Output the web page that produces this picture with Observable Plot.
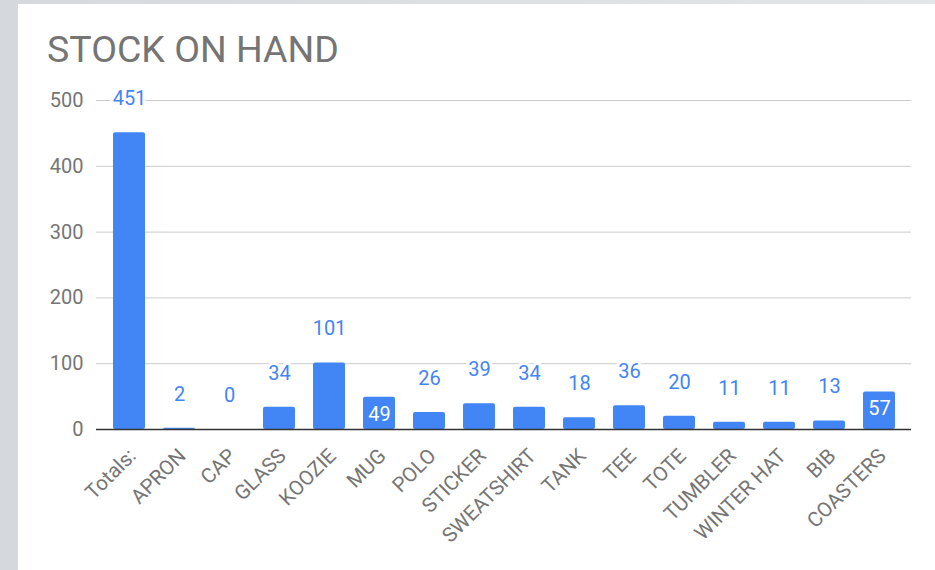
<!DOCTYPE html>
<html><head><meta charset="utf-8">
<script src="https://cdn.jsdelivr.net/npm/d3@7"></script>
<script src="https://cdn.jsdelivr.net/npm/@observablehq/plot@0.6"></script>
<style>
html,body{margin:0;padding:0;width:935px;height:570px;overflow:hidden;background:linear-gradient(90deg,#d5d9dd,#e3e6e9);font-family:Roboto,sans-serif;}
#card{position:absolute;left:18px;top:4px;width:917px;height:566px;background:#fff;}
#title{position:absolute;left:47px;top:31px;font-size:37.5px;line-height:37.5px;color:#757575;font-family:Roboto,sans-serif;white-space:nowrap;}
#chart{position:absolute;left:0;top:70px;}
</style>
</head><body>
<div id="card"></div>
<div id="title">STOCK ON HAND</div>
<div id="chart"></div>
<script>
const categories = ["Totals:","APRON","CAP","GLASS","KOOZIE","MUG","POLO","STICKER","SWEATSHIRT","TANK","TEE","TOTE","TUMBLER","WINTER HAT","BIB","COASTERS"];
const stock = [451,2,0,34,101,49,26,39,34,18,36,20,11,11,13,57];
const yTicks = [0,100,200,300,400,500];
const insideLabels = ["MUG","COASTERS"];

const data = categories.map((c,i)=>({category:c, value:stock[i]}));
const outside = data.filter(d=>!insideLabels.includes(d.category));
const inside = data.filter(d=>insideLabels.includes(d.category));

const chart = Plot.plot({
  width:935, height:500,
  marginLeft:96, marginRight:24, marginTop:30, marginBottom:141,
  style:{fontFamily:"Roboto, sans-serif", background:"transparent", overflow:"visible"},
  x:{domain:categories, paddingInner:0.36, paddingOuter:0.33, label:null},
  y:{domain:[0,500], label:null},
  marks:[
    Plot.gridY(yTicks.filter(d=>d>0), {stroke:"#cccccc", strokeOpacity:1, strokeWidth:1}),
    Plot.axisY(yTicks, {tickSize:0, tickPadding:13, fontSize:20, color:"#757575", label:null}),
    Plot.barY(data, {x:"category", y:"value", fill:"#4285f4", rx:2}),
    Plot.ruleY([0], {stroke:"#333333", strokeWidth:1.5}),
    Plot.text(outside, {x:"category", y:"value", text:d=>String(d.value), dy:-34, fill:"#4285f4", stroke:"white", strokeWidth:6, fontSize:20}),
    Plot.text(inside, {x:"category", y:"value", text:d=>String(d.value), dy:17, fill:"white", fontSize:20}),
    Plot.axisX({tickRotate:-45, tickSize:0, tickPadding:23, dx:3, fontSize:20.5, color:"#757575", label:null})
  ]
});
document.getElementById("chart").append(chart);
</script>
</body></html>
